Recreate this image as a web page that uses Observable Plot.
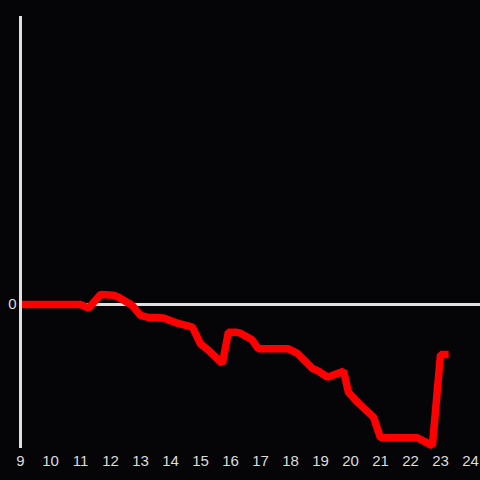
<!DOCTYPE html>
<html>
<head>
<meta charset="utf-8">
<script src="https://cdn.jsdelivr.net/npm/d3@7"></script>
<script src="https://cdn.jsdelivr.net/npm/@observablehq/plot@0.6"></script>
<style>
  html, body { margin: 0; padding: 0; background: #050407; }
  #chart { width: 480px; height: 480px; }
  #chart svg text { font-size: 15px; font-family: 'Liberation Sans', Arial, sans-serif; }
</style>
</head>
<body>
<div id="chart"></div>
<script>
const hours = [9, 11, 11.27, 11.67, 12.1, 12.27, 12.73, 13.0, 13.23, 13.77, 14.23, 14.73, 15.0, 15.27, 15.73, 15.93, 16.17, 16.33, 16.72, 16.93, 17.93, 18.23, 18.73, 18.93, 19.23, 19.77, 19.93, 20.23, 20.77, 21.0, 22.23, 22.73, 23.0, 23.27];
const values = [0, 0, -0.025, 0.07, 0.065, 0.05, -0.007, -0.076, -0.088, -0.093, -0.13, -0.157, -0.273, -0.319, -0.41, -0.192, -0.192, -0.199, -0.245, -0.308, -0.308, -0.34, -0.444, -0.463, -0.505, -0.463, -0.609, -0.678, -0.783, -0.926, -0.926, -0.98, -0.347, -0.347];
const xTicks = [9, 10, 11, 12, 13, 14, 15, 16, 17, 18, 19, 20, 21, 22, 23, 24];
const yTicks = [0];

const data = hours.map((h, i) => ({h, v: values[i]}));

const chart = Plot.plot({
  width: 480,
  height: 480,
  marginLeft: 20,
  marginRight: 0,
  marginTop: 16,
  marginBottom: 32,
  style: {background: "#050407", color: "#dcdcdc", fontFamily: "'Liberation Sans', Arial, sans-serif", fontSize: "15px"},
  x: {domain: [9, 24 + 1/3], label: null},
  y: {domain: [-1, 2], label: null},
  marks: [
    Plot.axisX({ticks: xTicks, tickSize: 0, tickPadding: 7, tickFormat: d => String(d), fontSize: 15, fill: "#dcdcdc", label: null}),
    Plot.axisY({ticks: yTicks, tickSize: 0, tickPadding: 4, tickFormat: d => String(d), fontSize: 15, fill: "#dcdcdc", label: null}),
    Plot.ruleY([0], {stroke: "#e0e0e0", strokeWidth: 3}),
    Plot.line(data, {x: "h", y: "v", stroke: "#ff0000", strokeWidth: 7.5, strokeLinejoin: "miter", strokeLinecap: "butt"}),
    Plot.ruleX([9], {stroke: "#e0e0e0", strokeWidth: 3})
  ]
});
document.getElementById("chart").appendChild(chart);
</script>
</body>
</html>
